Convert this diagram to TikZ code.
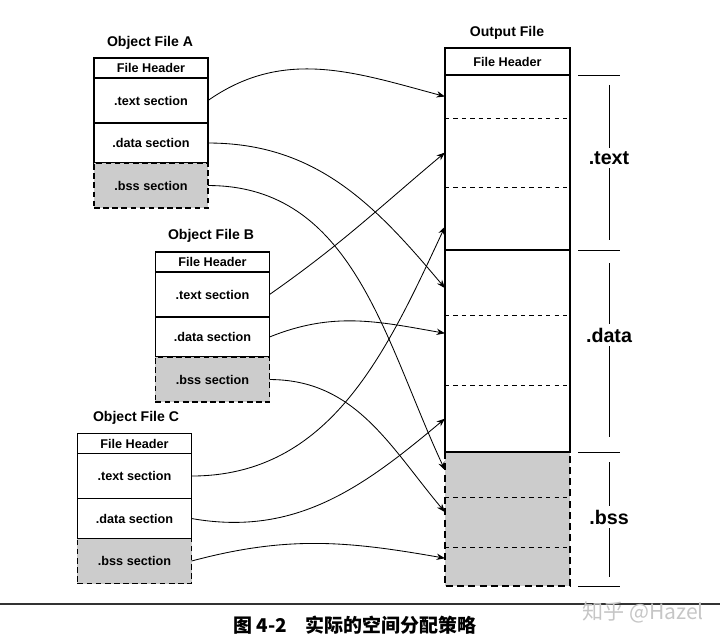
\documentclass[tikz,border=0pt]{standalone}
\usepackage{fontspec}
\setmainfont{Liberation Sans}
\newfontfamily\cjk{Noto Sans CJK SC}
\usetikzlibrary{positioning,arrows.meta}
\definecolor{bssgray}{gray}{0.80}

\tikzset{
  sec/.style={draw,line width=1.3pt,outer sep=0pt,inner sep=0pt,
    minimum width=2.85cm,font=\bfseries\fontsize{9}{10}\selectfont},
  hdr/.style={sec,minimum height=0.5cm},
  txtsec/.style={sec,minimum height=1.125cm},
  datsec/.style={sec,minimum height=1cm},
  bsssec/.style={sec,dash pattern=on 4pt off 2.5pt,fill=bssgray,minimum height=1.125cm},
  title/.style={font=\bfseries\fontsize{10}{12}\selectfont},
  slot/.style={outer sep=0pt,inner sep=0pt,minimum width=3.125cm},
  frame/.style={line width=1.8pt},
  divider/.style={dashed,line width=0.6pt},
  link/.style={line width=0.6pt,-{Stealth[length=6pt,width=4.5pt]}},
  biglbl/.style={font=\bfseries\fontsize{14}{16}\selectfont,fill=white,inner sep=2.5pt}
}

\begin{document}
\begin{tikzpicture}[x=0.025cm,y=-0.025cm]
  \useasboundingbox (0,0) rectangle (720,643);

  % object file A
  \node[title] (aTitle) at (150,43) {Object File A};
  \node[hdr] (aHead) at (151,68) {File Header};
  \node[txtsec,below=0pt of aHead] (aText) {.text section};
  \node[datsec,below=0pt of aText] (aData) {.data section};
  \node[bsssec,below=0pt of aData] (aBss) {.bss section};

  % object file B
  \node[title] (bTitle) at (211,236) {Object File B};
  \node[hdr] (bHead) at (212.5,262) {File Header};
  \node[txtsec,below=0pt of bHead] (bText) {.text section};
  \node[datsec,below=0pt of bText] (bData) {.data section};
  \node[bsssec,below=0pt of bData] (bBss) {.bss section};

  % object file C
  \node[title] (cTitle) at (136,418) {Object File C};
  \node[hdr] (cHead) at (134.5,443.5) {File Header};
  \node[txtsec,below=0pt of cHead] (cText) {.text section};
  \node[datsec,below=0pt of cText] (cData) {.data section};
  \node[bsssec,below=0pt of cData] (cBss) {.bss section};

  % output file
  \node[title] (oTitle) at (507,33) {Output File};
  \node[sec,frame,minimum width=3.125cm,minimum height=0.675cm] (oHead) at (507.5,61.5) {File Header};
  \node[slot,minimum height=1.075cm,below=0pt of oHead] (oT1) {};
  \node[slot,minimum height=1.725cm,below=0pt of oT1] (oT2) {};
  \node[slot,minimum height=1.575cm,below=0pt of oT2] (oT3) {};
  \node[slot,minimum height=1.625cm,below=0pt of oT3] (oD1) {};
  \node[slot,minimum height=1.75cm,below=0pt of oD1] (oD2) {};
  \node[slot,minimum height=1.675cm,below=0pt of oD2] (oD3) {};
  \node[slot,minimum height=1.125cm,below=0pt of oD3] (oB1) {};
  \node[slot,minimum height=1.25cm,below=0pt of oB1] (oB2) {};
  \node[slot,minimum height=0.975cm,below=0pt of oB2] (oB3) {};

  \fill[bssgray] (oB1.north west) rectangle (oB3.south east);
  \foreach \s in {oT1,oT2,oD1,oD2,oB1,oB2}
    \draw[divider] (\s.south west) -- (\s.south east);
  \draw[frame] (oT1.north west) rectangle (oD3.south east);
  \draw[frame] (oT3.south west) -- (oT3.south east);
  \draw[frame,dash pattern=on 5pt off 3pt]
    (oB1.north west) -- (oB3.south west) -- (oB3.south east) -- (oB1.north east);

  % extents on the right
  \foreach \s in {oT1,oD1,oB1}
    \draw[line width=0.7pt] ([xshift=0.2cm]\s.north east) -- ++(42,0);
  \draw[line width=0.7pt] ([xshift=0.2cm]oB3.south east) -- ++(42,0);
  \draw[line width=0.7pt] (609,85) -- (609,240);
  \draw[line width=0.7pt] (609,263) -- (609,437);
  \draw[line width=0.7pt] (609,462) -- (609,577);
  \node[biglbl] (lText) at (609,158) {.text};
  \node[biglbl] (lData) at (609,335) {.data};
  \node[biglbl] (lBss) at (609,517) {.bss};

  % links
  \draw[link] (aText.east) to[out=35,in=165] (oT1.west);
  \draw[link] (bText.east) to[out=35,in=-140] (oT2.west);
  \draw[link] (cText.east) to[out=0,in=-115] ([yshift=-0.2cm]oT3.west);
  \draw[link] (aData.east) to[out=0,in=130] ([yshift=-0.14cm]oD1.west);
  \draw[link] (bData.east) to[out=22,in=170] ([yshift=0.42cm]oD2.west);
  \draw[link] (cData.east) to[out=-10,in=-140] (oD3.west);
  \draw[link] (aBss.east) to[out=0,in=115] ([yshift=0.11cm]oB1.west);
  \draw[link] (bBss.east) to[out=0,in=130] ([yshift=0.25cm]oB2.west);
  \draw[link] (cBss.east) to[out=15,in=170] ([yshift=0.21cm]oB3.west);

  % caption
  \draw[line width=1pt,black!80] (0,604) -- (720,604);
  \node[font=\cjk\bfseries\fontsize{13.5}{16}\selectfont] (caption) at (355,625)
    {图 4-2\hspace{1em}实际的空间分配策略};
  \node[font=\cjk\fontsize{15}{17}\selectfont,text=gray!45] (mark) at (643,612)
    {知乎 @Hazel};
\end{tikzpicture}
\end{document}
